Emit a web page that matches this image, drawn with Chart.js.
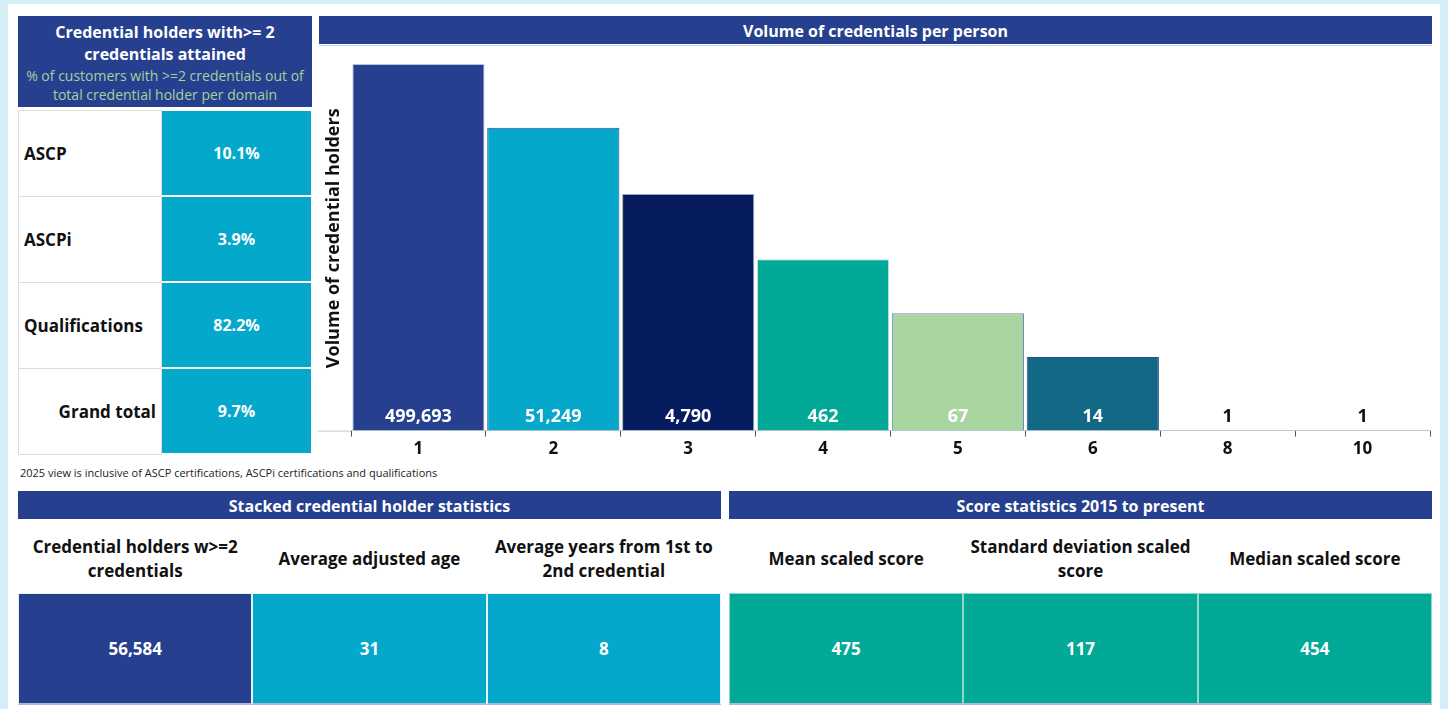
<!DOCTYPE html>
<html>
<head>
<meta charset="utf-8">
<script src="https://cdn.jsdelivr.net/npm/chart.js@4.4.1/dist/chart.umd.min.js"></script>
<style>
  body { margin: 0; background: #d4eef6; font-family: "Open Sans", "Noto Sans", sans-serif; }
  #page { position: absolute; left: 8px; top: 4px; width: 1432px; height: 705px; background: #fff; }
  .abs { position: absolute; box-sizing: border-box; }
  .hdr { background: #26408f; color: #fff; font-weight: bold; font-size: 16px; text-align: center; }
  .lbl { background: #fff; border: 1px solid #dcdcdc; font-weight: bold; font-size: 17px; color: #111; display: flex; align-items: center; padding: 0 5px; }
  .val { color: #fff; font-weight: bold; font-size: 16px; display: flex; align-items: center; justify-content: center; }
  .colhead { font-weight: bold; font-size: 17px; color: #111; display: flex; align-items: center; justify-content: center; text-align: center; line-height: 24px; }
</style>
</head>
<body>
<div id="page"></div>
<div class="abs" style="left:318px;top:47px;width:1116px;height:414px;">
  <canvas id="myChart" width="1116" height="414"></canvas>
</div>
<script>
// percentage table (left)
let domains = ['ASCP', 'ASCPi', 'Qualifications', 'Grand total']
let domainPct = ['10.1%', '3.9%', '82.2%', '9.7%']

// bar chart
let credCounts = ['1', '2', '3', '4', '5', '6', '8', '10']
let holders = [499693, 51249, 4790, 462, 67, 14, 1, 1]
let barColors = ['#26408f', '#05a8cb', '#061c5e', '#01a996', '#a9d5a0', '#126885', '#26408f', '#26408f']
let barBorders = ['#b8c2de', '#2d4a9a', '#9aa6c8', '#cfe0e8', '#6f86c0', '#2d4a9a', '#26408f', '#26408f']
let yTitle = 'Volume of credential holders'

// bottom stat cards
let stackedLabels = ['Credential holders w>=2<br>credentials', 'Average adjusted age', 'Average years from 1st to<br>2nd credential']
let stackedValues = ['56,584', '31', '8']
let scoreLabels = ['Mean scaled score', 'Standard deviation scaled<br>score', 'Median scaled score']
let scoreValues = ['475', '117', '454']

function box(cls, x, y, w, h, html, style) {
    let d = document.createElement('div')
    d.className = 'abs ' + cls
    d.style.left = x + 'px'
    d.style.top = y + 'px'
    d.style.width = w + 'px'
    d.style.height = h + 'px'
    if (style) d.style.cssText += style
    d.innerHTML = html
    document.body.appendChild(d)
    return d
}

// left header
box('hdr', 18, 16, 294, 91,
    '<div style="padding-top:5px;line-height:22px">Credential holders with&gt;= 2<br>credentials attained</div>' +
    '<div style="font-weight:normal;font-size:14px;line-height:19px;padding-top:1px;color:#a3d29c">% of customers with &gt;=2 credentials out of<br>total credential holder per domain</div>')

domains.forEach(function (d, i) {
    let y = 110 + i * 86
    let l = box('lbl', 18, y, 144, 87, d)
    if (d == 'Grand total') l.style.justifyContent = 'flex-end'
    box('val', 162, y + 1, 149, 84, domainPct[i], 'background:#03a8cb;')
})

box('', 20, 465, 600, 16, '2025 view is inclusive of ASCP certifications, ASCPi certifications and qualifications',
    'font-size:11px;color:#222;')

// chart header
box('hdr', 319, 16, 1113, 28, 'Volume of credentials per person', 'line-height:31px;')
box('', 319, 45, 1113, 1, '', 'background:#c3d3da;')

// bottom sections
function statPanel(x, title, labels, values, bg, line) {
    box('hdr', x, 491, 703, 28, title, 'line-height:31px;')
    let w = 703 / 3
    labels.forEach(function (lab, i) {
        box('colhead', x + i * w, 524, w, 70, lab)
        box('val', x + i * w, 593, w, 112, values[i],
            'font-size:17px;background:' + (Array.isArray(bg) ? bg[i] : bg) + ';border:1px solid ' + line + ';border-bottom:2px solid #a9b8dd;')
    })
}
statPanel(18, 'Stacked credential holder statistics', stackedLabels, stackedValues, ['#26408f', '#03a8cb', '#03a8cb'], '#e6f4f8')
statPanel(729, 'Score statistics 2015 to present', scoreLabels, scoreValues, '#01a996', '#8fd8cf')

// labels sit at the foot of each bar, plus the rotated y title
const barLabels = {
    id: 'barLabels',
    afterDatasetsDraw(chart) {
        let ctx = chart.ctx
        let area = chart.chartArea
        let meta = chart.getDatasetMeta(0)
        ctx.save()
        ctx.font = 'bold 18px "Open Sans"'
        ctx.textAlign = 'center'
        ctx.textBaseline = 'middle'
        meta.data.forEach(function (bar, i) {
            let v = holders[i]
            ctx.fillStyle = v > 1 ? '#ffffff' : '#111111'
            ctx.fillText(v.toLocaleString('en-US'), bar.x, area.bottom - 14)
        })
        // axis line runs under the y title too
        ctx.strokeStyle = '#b9cbd3'
        ctx.lineWidth = 1
        ctx.beginPath()
        ctx.moveTo(0, area.bottom + 0.5)
        ctx.lineTo(area.left, area.bottom + 0.5)
        ctx.stroke()
        // y title
        ctx.translate(16, (area.top + area.bottom) / 2 - 3)
        ctx.rotate(-Math.PI / 2)
        ctx.font = 'bold 18px "Open Sans"'
        ctx.fillStyle = '#111'
        ctx.fillText(yTitle, 0, 0)
        ctx.restore()
    }
}

let currChart = document.getElementById('myChart').getContext('2d')
Chart.defaults.font.family = '"Open Sans"'
let barChart = new Chart(currChart, {
    type: 'bar',
    data: {
        labels: credCounts,
        datasets: [{
            data: holders,
            backgroundColor: barColors,
            borderColor: barBorders,
            borderWidth: 1,
            barPercentage: 0.98,
            categoryPercentage: 1,
        }]
    },
    options: {
        responsive: false,
        animation: false,
        layout: { padding: { top: 5, right: 4, left: 33 } },
        scales: {
            x: {
                grid: {
                    offset: true,
                    drawOnChartArea: false,
                    tickLength: 6,
                    color: '#555',
                },
                border: { color: '#b9cbd3' },
                ticks: {
                    color: '#111',
                    font: { size: 17, weight: 'bold' },
                    padding: 2,
                },
            },
            y: {
                type: 'logarithmic',
                display: false,
                min: 1,
                max: 770000,
            },
        },
        plugins: {
            legend: { display: false },
            tooltip: { enabled: false },
        }
    },
    plugins: [barLabels]
})
</script>
</body>
</html>
